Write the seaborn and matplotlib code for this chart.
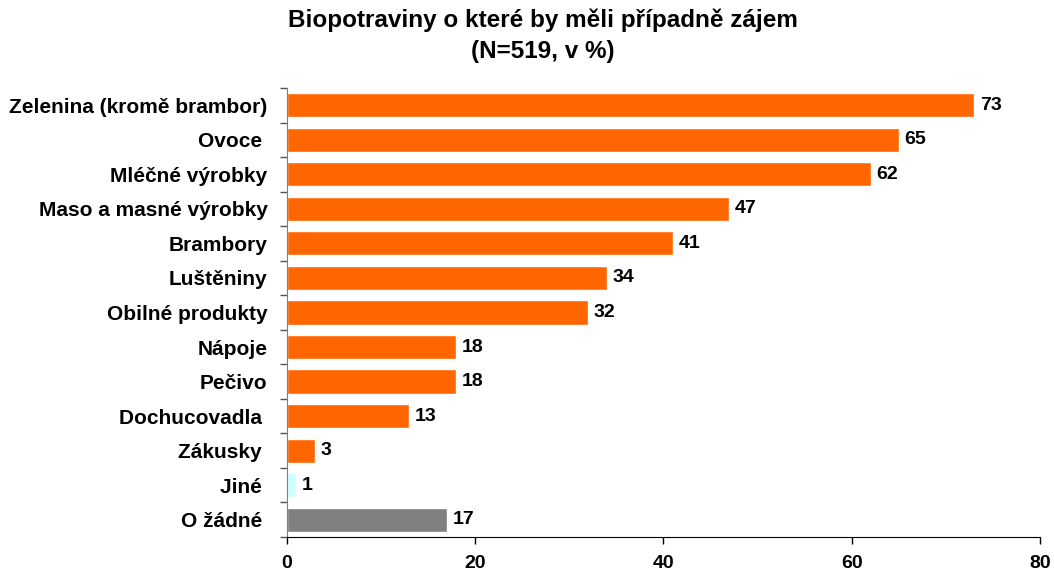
import numpy as np
import pandas as pd
import matplotlib
matplotlib.use("Agg")
import matplotlib.pyplot as plt
import seaborn as sns

categories = ["Zelenina (kromě brambor)", "Ovoce ", "Mléčné výrobky", "Maso a masné výrobky",
              "Brambory", "Luštěniny", "Obilné produkty", "Nápoje", "Pečivo",
              "Dochucovadla ", "Zákusky ", "Jiné ", "O žádné "]
values = [73, 65, 62, 47, 41, 34, 32, 18, 18, 13, 3, 1, 17]
bar_colors = ["#FF6600"] * 11 + ["#CCFFFF", "#808080"]

df = pd.DataFrame({"kat": categories, "pct": values})

sns.set_style("white")
plt.rcParams['font.family'] = ['Liberation Sans', 'DejaVu Sans']
plt.rcParams['font.weight'] = 'bold'
plt.rcParams['text.color'] = 'black'
plt.rcParams['xtick.color'] = 'black'
plt.rcParams['ytick.color'] = 'black'

fig = plt.figure(figsize=(10.54, 5.74), dpi=100)
ax = fig.add_axes([0.2723, 0.0645, 0.7144, 0.7822])

sns.barplot(data=df, x="pct", y="kat", hue="kat", palette=bar_colors,
            legend=False, width=0.7, saturation=1, ax=ax)

for c in ax.containers:
    ax.bar_label(c, padding=4, fontsize=14, fontweight='bold', color='black')

ax.set_xlim(0, 80)
ax.set_ylim(len(categories) - 0.5, -0.5)
ax.set_xticks([0, 20, 40, 60, 80])
ax.set_xlabel("")
ax.set_ylabel("")
ax.tick_params(axis='x', bottom=True, labelsize=14, length=5, width=1,
               direction='out', pad=8, color='black', labelcolor='black')
ax.tick_params(axis='y', which='major', left=True, labelsize=15, length=0, pad=14,
               labelcolor='black')
ax.set_yticks(np.arange(-0.5, len(categories), 1), minor=True)
ax.tick_params(axis='y', which='minor', left=True, length=5, width=1,
               direction='out', color='#555555')
for lab in ax.get_xticklabels() + ax.get_yticklabels():
    lab.set_fontweight('bold')

sns.despine(ax=ax, top=True, right=True)
ax.spines['left'].set_color('#808080')
ax.spines['bottom'].set_color('black')

fig.suptitle("Biopotraviny o které by měli případně zájem\n(N=519, v %)",
             fontsize=17.5, fontweight='bold', x=0.515, y=0.985, linespacing=1.45,
             color='black')

fig.savefig("out.png", dpi=100)
